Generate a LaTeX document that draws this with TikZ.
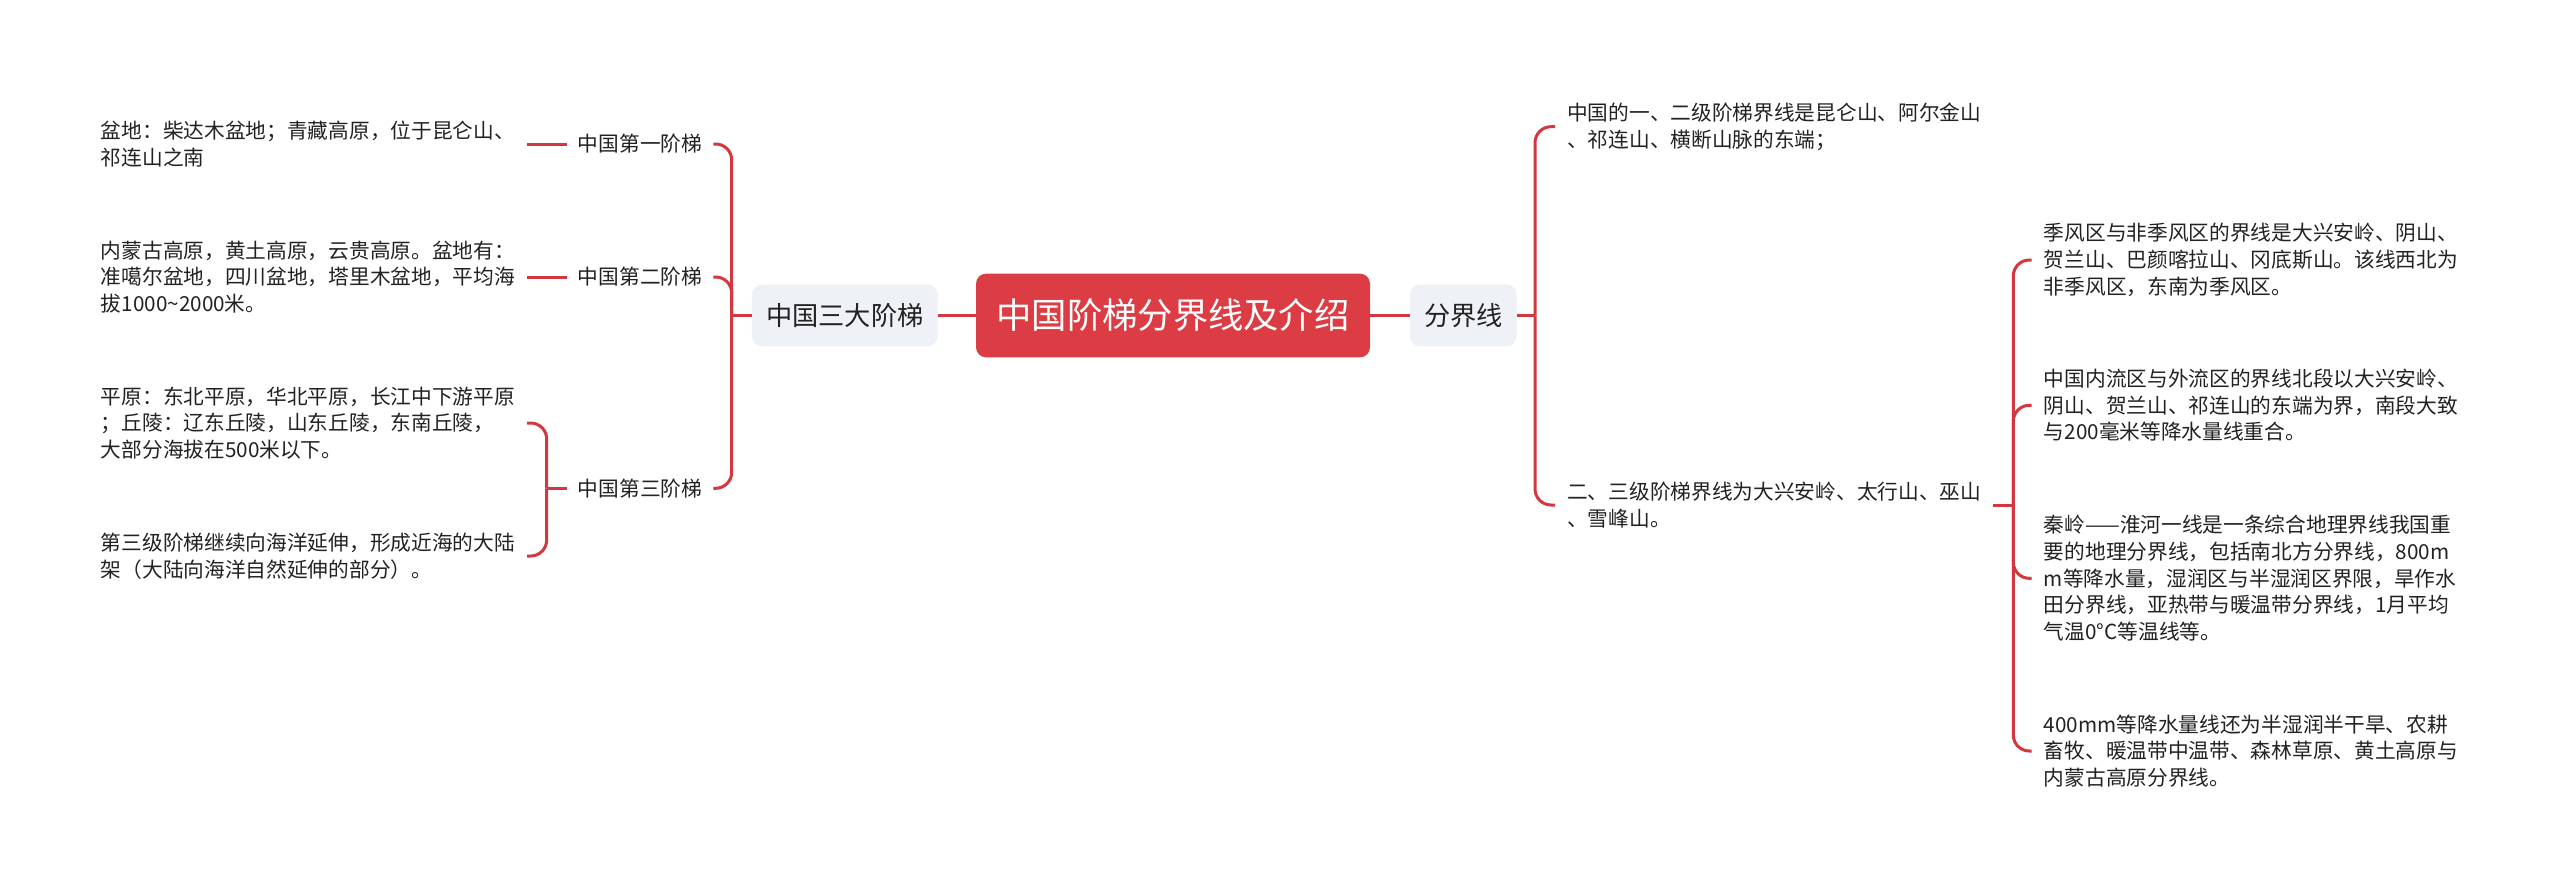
\documentclass[tikz,border=0pt]{standalone}
\usepackage{fontspec}
\setmainfont{Noto Sans CJK SC}
\definecolor{linered}{HTML}{D3373F}
\definecolor{rootred}{HTML}{DC3D44}
\definecolor{boxgray}{HTML}{EEF1F5}
\definecolor{txt}{HTML}{222222}
\newcommand{\leaffont}{\fontsize{20.7pt}{26.7pt}\selectfont}
\newcommand{\midfont}{\fontsize{26.2pt}{30pt}\selectfont}
\newcommand{\rootfont}{\fontsize{35.3pt}{40pt}\selectfont}
\begin{document}
\begin{tikzpicture}[x=1pt,y=-1pt,
  conn/.style={draw=linered, line width=3pt},
  curvedconn/.style={conn, rounded corners=16pt},
  leaf/.style={align=left, inner xsep=12pt, inner ysep=2pt, font=\leaffont, text=txt},
  sub/.style={inner xsep=11pt, inner ysep=2pt, font=\leaffont, text=txt},
  topicbox/.style={fill=boxgray, rounded corners=10pt, minimum height=61.7pt, inner sep=0pt, font=\midfont, text=txt},
  rootbox/.style={fill=rootred, rounded corners=10pt, minimum width=394pt, minimum height=83.6pt, inner sep=0pt, font=\rootfont, text=white}]
\fill[white] (0,0) rectangle (2560,891);
\useasboundingbox (0,0) rectangle (2560,891);

% root and main topics
\node[rootbox] (root) at (1173,315.5) {中国阶梯分界线及介绍};
\node[topicbox, minimum width=185.7pt] (lt) at (844.8,315.5) {中国三大阶梯};
\node[topicbox, minimum width=106.7pt] (rt) at (1463.3,315.5) {分界线};

% left level-2
\node[sub] (s1) at (640,144) {中国第一阶梯};
\node[sub] (s2) at (640,277) {中国第二阶梯};
\node[sub] (s3) at (640,488.3) {中国第三阶梯};

% left leaves
\node[leaf, anchor=west] (la) at (88.7,144) {盆地：柴达木盆地；青藏高原，位于昆仑山、\\祁连山之南};
\node[leaf, anchor=west] (lb) at (88.7,277) {内蒙古高原，黄土高原，云贵高原。盆地有：\\准噶尔盆地，四川盆地，塔里木盆地，平均海\\拔1000\textasciitilde 2000米。};
\node[leaf, anchor=west] (lc) at (88.7,423) {平原：东北平原，华北平原，长江中下游平原\\；丘陵：辽东丘陵，山东丘陵，东南丘陵，\\大部分海拔在500米以下。};
\node[leaf, anchor=west] (ld) at (88.7,556) {第三级阶梯继续向海洋延伸，形成近海的大陆\\架（大陆向海洋自然延伸的部分）。};

% right level-2
\node[leaf, anchor=west] (t1) at (1555,126.7) {中国的一、二级阶梯界线是昆仑山、阿尔金山\\、祁连山、横断山脉的东端；};
\node[leaf, anchor=west] (t2) at (1555,505) {二、三级阶梯界线为大兴安岭、太行山、巫山\\、雪峰山。};

% right leaves
\node[leaf, anchor=west] (r1) at (2031.7,260) {季风区与非季风区的界线是大兴安岭、阴山、\\贺兰山、巴颜喀拉山、冈底斯山。该线西北为\\非季风区，东南为季风区。};
\node[leaf, anchor=west] (r2) at (2031.7,405.3) {中国内流区与外流区的界线北段以大兴安岭、\\阴山、贺兰山、祁连山的东端为界，南段大致\\与200毫米等降水量线重合。};
\node[leaf, anchor=west] (r3) at (2031.7,578.3) {秦岭——淮河一线是一条综合地理界线我国重\\要的地理分界线，包括南北方分界线，800m\\m等降水量，湿润区与半湿润区界限，旱作水\\田分界线，亚热带与暖温带分界线，1月平均\\气温0°C等温线等。};
\node[leaf, anchor=west] (r4) at (2031.7,751) {400mm等降水量线还为半湿润半干旱、农耕\\畜牧、暖温带中温带、森林草原、黄土高原与\\内蒙古高原分界线。};

% junctions
\coordinate (jL) at (731.7,315.5);
\coordinate (j3) at (546.7,488.3);
\coordinate (jR) at (1535,315.5);
\coordinate (jR2) at (2013.3,505);

% connectors
\draw[conn] (root.west) -- (lt.east);
\draw[conn] (root.east) -- (rt.west);
\draw[conn] (lt.west) -- (jL);
\draw[curvedconn] (jL) |- (s1.east);
\draw[curvedconn] (jL) |- (s2.east);
\draw[curvedconn] (jL) |- (s3.east);
\draw[conn] (s1.west) -- (la.east);
\draw[conn] (s2.west) -- (lb.east);
\draw[conn] (s3.west) -- (j3);
\draw[curvedconn] (j3) |- (lc.east);
\draw[curvedconn] (j3) |- (ld.east);
\draw[conn] (rt.east) -- (jR);
\draw[curvedconn] (jR) |- (t1.west);
\draw[curvedconn] (jR) |- (t2.west);
\draw[conn] (t2.east) -- (jR2);
\draw[curvedconn] (jR2) |- (r1.west);
\draw[curvedconn] (jR2) |- (r2.west);
\draw[curvedconn] (jR2) |- (r3.west);
\draw[curvedconn] (jR2) |- (r4.west);
\end{tikzpicture}
\end{document}
